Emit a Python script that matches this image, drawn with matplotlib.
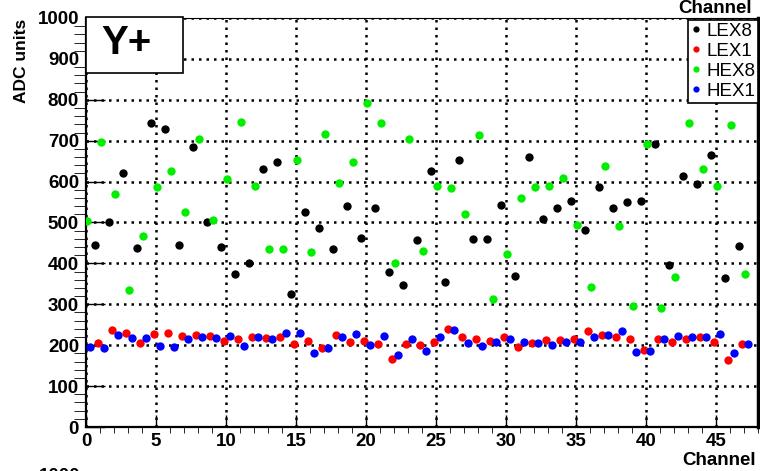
import matplotlib
matplotlib.use('Agg')
import matplotlib.pyplot as plt
import numpy as np
from matplotlib.patches import Rectangle
from matplotlib.ticker import MultipleLocator

plt.rcParams['font.family'] = ['Liberation Sans', 'DejaVu Sans']

# channel numbers, HEX series have 48 channels, LEX ones 47
channels = np.arange(48)

lex8 = [445, 500, 620, 438, 743, 729, 445, 685, 502, 441, 374, 400,
        631, 649, 324, 526, 487, 435, 540, 463, 535, 379, 346, 458,
        627, 355, 654, 459, 459, 543, 368, 659, 509, 536, 553, 481,
        587, 535, 551, 553, 692, 397, 613, 595, 666, 364, 443]
lex1 = [206, 237, 229, 206, 227, 229, 222, 225, 222, 211, 216, 220,
        217, 220, 202, 211, 193, 224, 209, 211, 203, 166, 203, 200,
        209, 240, 219, 214, 211, 220, 196, 206, 212, 212, 216, 235,
        225, 220, 214, 188, 216, 209, 214, 219, 207, 163, 202]
hex8 = [504, 697, 570, 335, 466, 586, 627, 526, 705, 506, 607, 746,
        589, 436, 436, 652, 427, 716, 597, 648, 793, 743, 400, 705,
        431, 590, 584, 520, 713, 314, 423, 559, 587, 589, 608, 494,
        343, 638, 492, 297, 693, 292, 366, 744, 631, 589, 739, 374]
hex1 = [196, 194, 225, 217, 217, 199, 196, 214, 220, 217, 222, 199,
        220, 214, 229, 229, 180, 193, 220, 227, 200, 222, 175, 216,
        186, 219, 237, 206, 198, 209, 216, 209, 206, 201, 209, 209,
        220, 224, 235, 184, 186, 214, 222, 220, 219, 227, 180, 204]

fig = plt.figure(figsize=(7.6, 4.71), dpi=100)
ax = fig.add_axes([86/760, 44/471, 672/760, 409/471])

ms = 6
ax.plot(channels[:len(lex8)] + 0.65, lex8, 'o', color='black', ms=ms, mec='none', label='LEX8', zorder=3)
ax.plot(channels[:len(lex1)] + 0.88, lex1, 'o', color='#ff0000', ms=ms, mec='none', label='LEX1', zorder=3)
ax.plot(channels + 0.1, hex8, 'o', color='#00ee00', ms=ms, mec='none', label='HEX8', zorder=3)
ax.plot(channels + 0.3, hex1, 'o', color='#0000ff', ms=ms, mec='none', label='HEX1', zorder=3)

ax.set_xlim(0, 48)
ax.set_ylim(0, 1000)
ax.xaxis.set_major_locator(MultipleLocator(5))
ax.xaxis.set_minor_locator(MultipleLocator(1))
ax.yaxis.set_major_locator(MultipleLocator(100))
ax.yaxis.set_minor_locator(MultipleLocator(20))

ax.grid(True, which='major', color='black', linestyle=(0, (1, 2)), linewidth=1.8)

ax.tick_params(direction='in', top=False, right=False, labelsize=13.5, width=1)
ax.tick_params(axis='y', which='major', length=14, pad=5)
ax.tick_params(axis='y', which='minor', length=8.5)
ax.tick_params(axis='x', which='major', length=8.5, pad=4)
ax.tick_params(axis='x', which='minor', length=4.3)
for lab in ax.get_xticklabels() + ax.get_yticklabels():
    lab.set_fontweight('bold')

ax.spines['left'].set_linewidth(1.6)
ax.spines['bottom'].set_linewidth(1.6)
ax.spines['top'].set_linewidth(0.8)
ax.spines['right'].set_linewidth(2.5)

# pad label box
box = Rectangle((0, 0.8655), 0.1443, 0.137, transform=ax.transAxes, fc='white',
                ec='black', lw=1.2, zorder=5, clip_on=False)
ax.add_patch(box)
ax.text(0.06, 0.94, 'Y+', transform=ax.transAxes, fontsize=29, fontweight='bold',
        ha='center', va='center', zorder=6)

leg = ax.legend(loc='upper right', bbox_to_anchor=(1, 0.995), frameon=True, fancybox=False,
                edgecolor='black', framealpha=1, fontsize=13.5, handlelength=0.5,
                handletextpad=0.3, borderpad=0.15, labelspacing=0.15, borderaxespad=0,
                markerscale=0.75)
leg.get_frame().set_linewidth(1.2)
leg.set_zorder(6)

fig.text(22/760, 1 - 19/471, 'ADC units', rotation=90, ha='center', va='top',
         fontsize=12.5, fontweight='bold')
fig.text(756/760, 1 - 465/471, 'Channel', ha='right', va='baseline',
         fontsize=13.5, fontweight='bold')
fig.text(752/760, 1 - 13/471, 'Channel', ha='right', va='baseline',
         fontsize=13.5, fontweight='bold')
fig.text(80/760, 3/471, '1000', ha='right', va='top', fontsize=13.5, fontweight='bold')

fig.savefig('out.png', dpi=100)
